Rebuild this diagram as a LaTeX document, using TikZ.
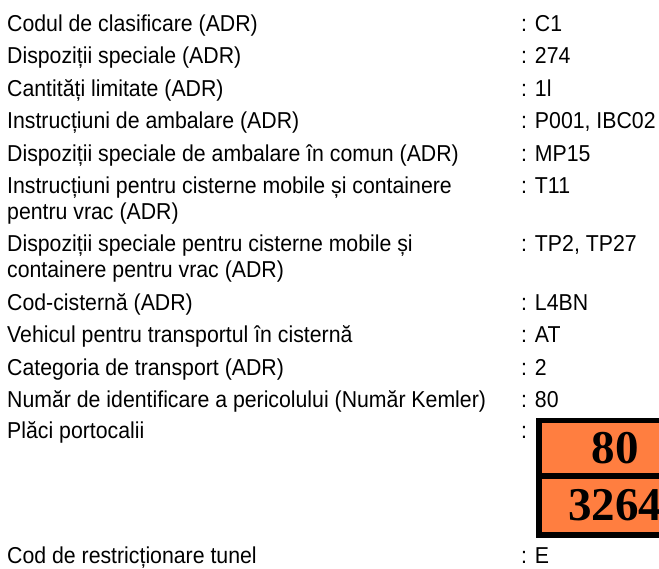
\documentclass[tikz,border=0pt]{standalone}
\usepackage{fontspec}
\setmainfont{Liberation Sans}[FakeStretch=0.925]
\newfontfamily\platefont{Liberation Serif}
\definecolor{plateorange}{RGB}{255,126,64}

\begin{document}
\begin{tikzpicture}[x=1pt, y=-1pt,
    lbl/.style={anchor=base west, inner sep=0pt, align=left,
        font=\fontsize{23}{26}\selectfont},
    val/.style={lbl},
    digits/.style={inner sep=0pt, font=\platefont\bfseries\fontsize{47}{47}\selectfont}]
            \useasboundingbox (0,0) rectangle (659,568);
            \clip (0,0) rectangle (659,568);

            \node[lbl] (clasif) at (7,31) {Codul de clasificare (ADR)};
            \node[val] (clasifval) at (521,31) {: C1};
            \node[lbl] (dispsp) at (7,63.5) {Dispoziții speciale (ADR)};
            \node[val] (dispspval) at (521,63.5) {: 274};
            \node[lbl] (cantlim) at (7,96) {Cantități limitate (ADR)};
            \node[val] (cantlimval) at (521,96) {: 1l};
            \node[lbl] (instramb) at (7,128.5) {Instrucțiuni de ambalare (ADR)};
            \node[val] (instrambval) at (521,128.5) {: P001, IBC02};
            \node[lbl] (dispamb) at (7,161) {Dispoziții speciale de ambalare în comun (ADR)};
            \node[val] (dispambval) at (521,161) {: MP15};
            % two-line labels: base is the last line
            \node[lbl] (instrcist) at (7,219) {Instrucțiuni pentru cisterne mobile și containere\\pentru vrac (ADR)};
            \node[val] (instrcistval) at (521,193) {: T11};
            \node[lbl] (dispcist) at (7,277.5) {Dispoziții speciale pentru cisterne mobile și\\containere pentru vrac (ADR)};
            \node[val] (dispcistval) at (521,251.5) {: TP2, TP27};
            \node[lbl] (codcist) at (7,310) {Cod-cisternă (ADR)};
            \node[val] (codcistval) at (521,310) {: L4BN};
            \node[lbl] (vehicul) at (7,342.5) {Vehicul pentru transportul în cisternă};
            \node[val] (vehiculval) at (521,342.5) {: AT};
            \node[lbl] (categ) at (7,375) {Categoria de transport (ADR)};
            \node[val] (categval) at (521,375) {: 2};
            \node[lbl] (kemler) at (7,407) {Număr de identificare a pericolului (Număr Kemler)};
            \node[val] (kemlerval) at (521,407) {: 80};
            \node[lbl] (placi) at (7,438) {Plăci portocalii};
            \node[val] (placival) at (521,438) {:};
            \node[lbl] (tunel) at (7,563) {Cod de restricționare tunel};
            \node[val] (tunelval) at (521,563) {: E};

            % orange plate
            \filldraw[black] (536,418) rectangle (694,537);
            \fill[plateorange] (542,423) rectangle (688,473);
            \fill[plateorange] (542,479) rectangle (688,532);
            \node[digits] (kemlerno) at (615,448) {80};
            \node[digits] (unno) at (615,505.5) {3264};
        \end{tikzpicture}
\end{document}
